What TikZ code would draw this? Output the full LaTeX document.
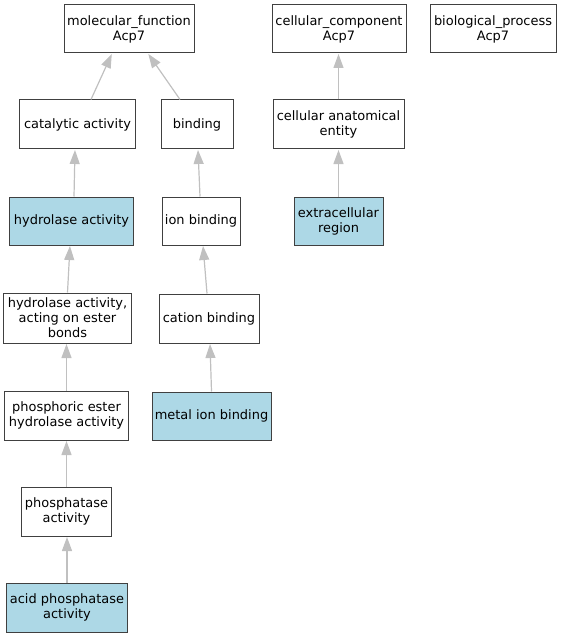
\documentclass[tikz,border=0pt]{standalone}
\usepackage{fontspec}
\setmainfont{DejaVu Sans}
\usetikzlibrary{arrows.meta}
\definecolor{boxline}{HTML}{404040}
\definecolor{edgegray}{HTML}{C0C0C0}
\definecolor{hl}{HTML}{ADD8E6}
\tikzset{
  term/.style={draw=boxline, line width=1bp, fill=white, inner sep=0pt, align=center,
    font=\fontsize{13}{15}\selectfont},
  hit/.style={term, fill=hl},
  edge/.style={draw=edgegray, line width=1.2bp, -{Triangle[length=14bp,width=10bp]}, shorten >=0.5bp},
}
\begin{document}
\begin{tikzpicture}[x=1bp,y=-1bp]
\useasboundingbox (0,0) rectangle (561,637);
\node[term, minimum width=130bp, minimum height=48bp] (mf) at (129,29) {molecular\_function\\Acp7};
\node[term, minimum width=134bp, minimum height=48bp] (cc) at (339,29) {cellular\_component\\Acp7};
\node[term, minimum width=126bp, minimum height=48bp] (bp) at (493,29) {biological\_process\\Acp7};
\node[term, minimum width=115bp, minimum height=49bp] (cat) at (77.5,124.5) {catalytic activity};
\node[term, minimum width=72bp, minimum height=49bp] (bind) at (197,124.5) {binding};
\node[term, minimum width=131bp, minimum height=49bp] (cae) at (338.5,124.5) {cellular anatomical\\entity};
\node[hit, minimum width=123bp, minimum height=48bp] (hyd) at (71.5,221) {hydrolase activity};
\node[term, minimum width=78bp, minimum height=48bp] (ion) at (201,221) {ion binding};
\node[hit, minimum width=89bp, minimum height=48bp] (er) at (338.5,221) {extracellular\\region};
\node[term, minimum width=127bp, minimum height=50bp] (hae) at (67.5,318) {hydrolase activity,\\acting on ester\\bonds};
\node[term, minimum width=100bp, minimum height=49bp] (cation) at (209,318.5) {cation binding};
\node[term, minimum width=123bp, minimum height=49bp] (pe) at (66.5,415.5) {phosphoric ester\\hydrolase activity};
\node[hit, minimum width=119bp, minimum height=48bp] (metal) at (211.5,416) {metal ion binding};
\node[term, minimum width=89bp, minimum height=49bp] (phos) at (66.5,511.5) {phosphatase\\activity};
\node[hit, minimum width=120bp, minimum height=49bp] (acid) at (67,607.5) {acid phosphatase\\activity};
\draw[edge] ([xshift=13.5bp]cat.north) -- ([xshift=-17bp]mf.south);
\draw[edge] ([xshift=-17bp]bind.north) -- ([xshift=19bp]mf.south);
\draw[edge] (cae.north) -- (cae.north |- cc.south);
\draw[edge] (er.north) -- (er.north |- cae.south);
\draw[edge] ([xshift=2.5bp]hyd.north) -- ([xshift=-2.5bp]cat.south);
\draw[edge] ([xshift=-1bp]ion.north) -- ([xshift=1bp]bind.south);
\draw[edge] (hae.north) -- ([xshift=-1.5bp]hyd.south);
\draw[edge] ([xshift=-2bp]cation.north) -- ([xshift=2bp]ion.south);
\draw[edge] (pe.north) -- (pe.north |- hae.south);
\draw[edge] (metal.north) -- ([xshift=1bp]cation.south);
\draw[edge] (phos.north) -- (phos.north |- pe.south);
\draw[edge] (acid.north) -- (acid.north |- phos.south);
\end{tikzpicture}
\end{document}
